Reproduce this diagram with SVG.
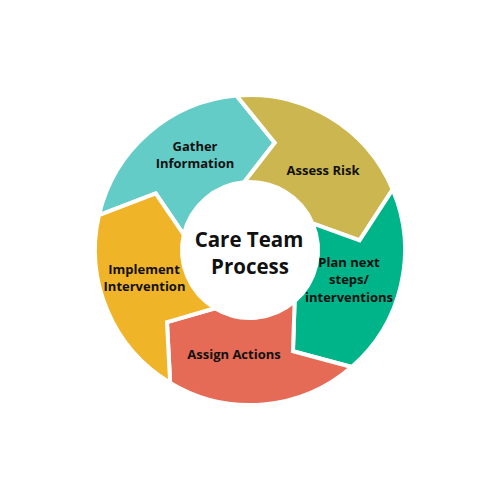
<svg xmlns="http://www.w3.org/2000/svg" width="500" height="500" viewBox="0 0 500 500">
  <style>
    .seg { stroke: #ffffff; stroke-width: 4; stroke-linejoin: miter; }
    .lbl { font-family: "Open Sans", "Liberation Sans", sans-serif; font-weight: 700; font-size: 13px; fill: #111111; text-anchor: middle; }
    .ctr { font-family: "Open Sans", "Liberation Sans", sans-serif; font-weight: 700; font-size: 20.5px; fill: #111111; text-anchor: middle; }
  </style>
  <rect width="500" height="500" fill="#ffffff"/>
  <g id="gather">
    <path class="seg" fill="#64CCC6" d="M98.97,215.13 A155,155 0 0 1 236.49,95.59 L274.74,142.82 L244.07,182.26 A68,68 0 0 0 183.74,234.70 L155.71,193.35 Z"/>
    <text class="lbl" x="195" y="151">Gather</text>
    <text class="lbl" x="195" y="168">Information</text>
  </g>
  <g id="assess">
    <path class="seg" fill="#CCB64F" d="M236.49,95.59 A155,155 0 0 1 392.68,189.44 L359.58,240.41 L312.59,223.43 A68,68 0 0 0 244.07,182.26 L274.74,142.82 Z"/>
    <text class="lbl" x="323" y="175">Assess Risk</text>
  </g>
  <g id="plan">
    <path class="seg" fill="#00B489" d="M392.68,189.44 A155,155 0 0 1 351.69,366.98 L292.98,351.26 L294.61,301.32 A68,68 0 0 0 312.59,223.43 L359.58,240.41 Z"/>
    <text class="lbl" x="349" y="267">Plan next</text>
    <text class="lbl" x="349" y="284">steps/</text>
    <text class="lbl" x="349" y="302">interventions</text>
  </g>
  <g id="assign">
    <path class="seg" fill="#E66B56" d="M351.69,366.98 A155,155 0 0 1 170.17,382.86 L166.98,322.17 L214.98,308.29 A68,68 0 0 0 294.61,301.32 L292.98,351.26 Z"/>
    <text class="lbl" x="234" y="359">Assign Actions</text>
  </g>
  <g id="implement">
    <path class="seg" fill="#F0B429" d="M170.17,382.86 A155,155 0 0 1 98.97,215.13 L155.71,193.35 L183.74,234.70 A68,68 0 0 0 214.98,308.29 L166.98,322.17 Z"/>
    <text class="lbl" x="144" y="274">Implement</text>
    <text class="lbl" x="144.5" y="291">Intervention</text>
  </g>
  <g id="center">
    <text class="ctr" x="249" y="247">Care Team</text>
    <text class="ctr" x="250" y="274">Process</text>
  </g>
  <g id="connectors"></g>
</svg>
